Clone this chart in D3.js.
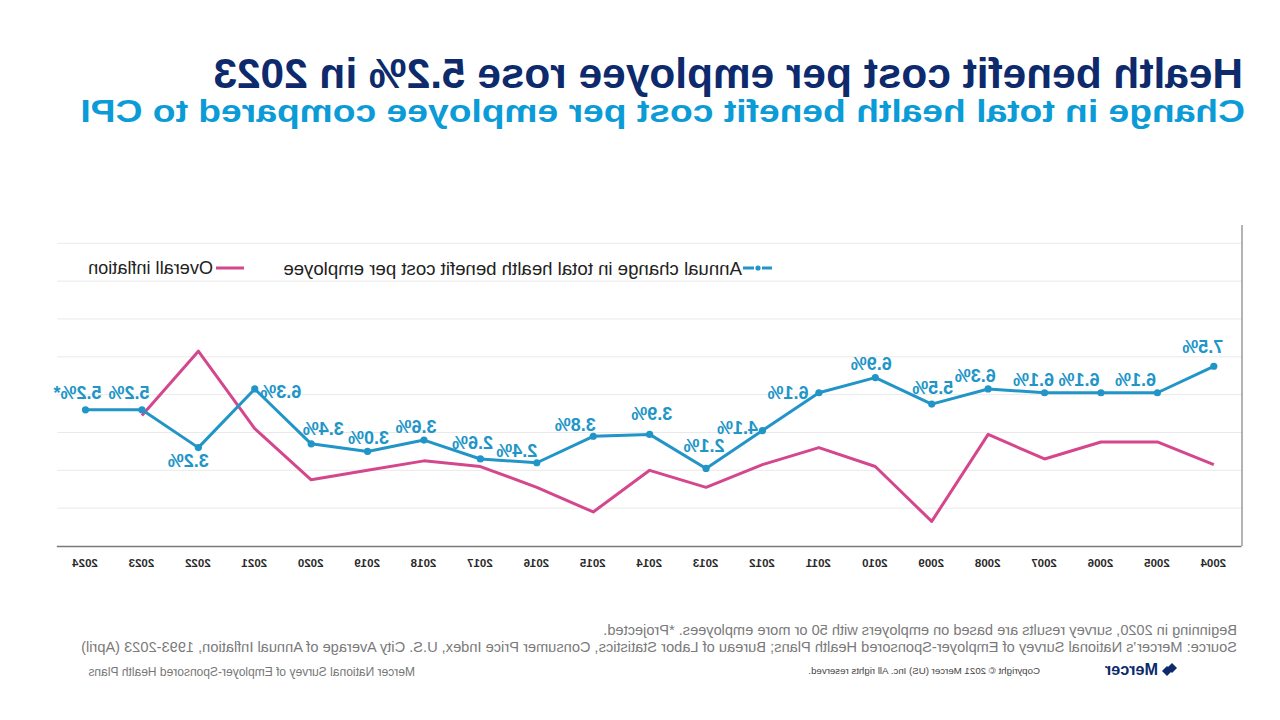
<!DOCTYPE html>
<html>
<head>
<meta charset="utf-8">
<script src="https://cdn.jsdelivr.net/npm/d3@7"></script>
<style>
  html, body { margin: 0; padding: 0; background: #ffffff; }
  svg { display: block; font-family: "Liberation Sans", Arial, sans-serif; }
</style>
</head>
<body>
<svg id="chart" width="1280" height="720"></svg>
<script>
// ---------- data ----------
const years = ["2004","2005","2006","2007","2008","2009","2010","2011","2012","2013","2014",
               "2015","2016","2017","2018","2019","2020","2021","2022","2023","2024"];
const healthCost = [7.5, 6.1, 6.1, 6.1, 6.3, 5.5, 6.9, 6.1, 4.1, 2.1, 3.9,
                    3.8, 2.4, 2.6, 3.6, 3.0, 3.4, 6.3, 3.2, 5.2, 5.2];
const healthLabels = ["7.5%","6.1%","6.1%","6.1%","6.3%","5.5%","6.9%","6.1%","4.1%","2.1%","3.9%",
                      "3.8%","2.4%","2.6%","3.6%","3.0%","3.4%","6.3%","3.2%","5.2%","5.2%*"];
const inflation = [2.3, 3.5, 3.5, 2.6, 3.9, -0.7, 2.2, 3.2, 2.3, 1.1, 2.0,
                   -0.2, 1.1, 2.2, 2.5, 2.0, 1.5, 4.2, 8.3, 4.9, null];
const yTicks = [-2, 0, 2, 4, 6, 8, 10, 12, 14];
const seriesNames = ["Annual change in total health benefit cost per employee", "Overall inflation"];
const titleText = "Health benefit cost per employee rose 5.2% in 2023";
const subtitleText = "Change in total health benefit cost per employee compared to CPI";
const footnote1 = "Beginning in 2020, survey results are based on employers with 50 or more employees. *Projected.";
const footnote2 = "Source: Mercer\u2019s National Survey of Employer-Sponsored Health Plans; Bureau of Labor Statistics, Consumer Price Index, U.S. City Average of Annual Inflation, 1993-2023 (April)";
const copyrightText = "Copyright \u00A9 2021 Mercer (US) Inc. All rights reserved.";
const surveyText = "Mercer National Survey of Employer-Sponsored Health Plans";

// ---------- styling / layout ----------
const BLUE = "#2195c7", PINK = "#d5478d", NAVY = "#0c2a6c", LIGHTBLUE = "#0b9bd7";
// label nudges (dx, dy) relative to each point, reading order of years
const labelNudge = [[11,-19],[22,-13],[22,-13],[11,-13],[13,-13],[-1,-16],[4,-14],[31,0],[25,-3],[2,-22],[-2,-20],
                    [18,-11],[20,-12],[8,-16],[8,-13],[-1,-13],[-12,-15],[-26,3],[10,13],[13,-17],[8,-17]];

const svg = d3.select("#chart");
// the reference is drawn mirrored horizontally
const root = svg.append("g").attr("transform", "translate(1280,0) scale(-1,1)");

function fit(sel, w) {
  const n = sel.node();
  const fs = parseFloat(sel.attr("font-size"));
  const len = n.getComputedTextLength();
  if (len > 0) sel.attr("font-size", (fs * w / len).toFixed(2));
  return sel;
}
// fit width, then stretch vertically so the cap height matches
function fitBox(x0, base, text, fs, weight, fill, w, cap) {
  const g = root.append("g");
  const t = g.append("text").attr("x", 0).attr("y", 0).attr("font-size", fs)
    .attr("font-weight", weight).attr("fill", fill).text(text);
  fit(t, w);
  const f = parseFloat(t.attr("font-size"));
  const sy = cap / (0.716 * f);
  g.attr("transform", `translate(${x0},${base}) scale(1,${sy.toFixed(3)})`);
  return t;
}

const plotL = 38, plotR = 1222.7, plotTop = 225, plotBottom = 546;
const x = d3.scalePoint().domain(years).range([plotL, plotR]).padding(0.5);
const y = d3.scaleLinear().domain([-2, 14]).range([plotBottom, 243.3]);

// titles
fitBox(37, 87.5, titleText, 36, "bold", NAVY, 1030, 30);
fitBox(35, 121.5, subtitleText, 32, "bold", LIGHTBLUE, 1165, 22);

// gridlines
root.append("g").selectAll("line").data(yTicks.filter(d => d > -2)).join("line")
  .attr("x1", plotL).attr("x2", plotR)
  .attr("y1", d => y(d)).attr("y2", d => y(d))
  .attr("stroke", "#e9e9e9").attr("stroke-width", 1);

// axes
const xAxis = root.append("g").attr("transform", `translate(0,${plotBottom})`)
  .call(d3.axisBottom(x).tickSize(0).tickPadding(13));
xAxis.select(".domain").attr("stroke", "#7a7a7a").attr("stroke-width", 1.3);
xAxis.selectAll("text").attr("font-size", 11.5).attr("font-weight", "bold")
  .attr("fill", "#2a2a2a").attr("font-family", "Liberation Sans, Arial, sans-serif");
root.append("line").attr("x1", plotL).attr("x2", plotL).attr("y1", plotTop).attr("y2", plotBottom)
  .attr("stroke", "#8a8a8a").attr("stroke-width", 1.3);

// inflation line
const inflPts = years.map((yr, i) => ({yr, v: inflation[i]})).filter(d => d.v !== null);
root.append("path").datum(inflPts)
  .attr("d", d3.line().x(d => x(d.yr)).y(d => y(d.v)))
  .attr("fill", "none").attr("stroke", PINK).attr("stroke-width", 3).attr("stroke-linejoin", "round");

// health cost line
const hcPts = years.map((yr, i) => ({yr, v: healthCost[i], label: healthLabels[i], n: labelNudge[i]}));
root.append("path").datum(hcPts)
  .attr("d", d3.line().x(d => x(d.yr)).y(d => y(d.v)))
  .attr("fill", "none").attr("stroke", BLUE).attr("stroke-width", 3).attr("stroke-linejoin", "round");
root.append("g").selectAll("circle").data(hcPts).join("circle")
  .attr("cx", d => x(d.yr)).attr("cy", d => y(d.v)).attr("r", 3.6).attr("fill", BLUE);
root.append("g").selectAll("text").data(hcPts).join("text")
  .attr("x", d => x(d.yr) + d.n[0]).attr("y", d => y(d.v) + d.n[1])
  .attr("text-anchor", "middle").attr("dominant-baseline", "central")
  .attr("font-size", 18).attr("font-weight", "bold").attr("fill", BLUE)
  .text(d => d.label);

// legend
const lg = root.append("g");
lg.append("line").attr("x1", 508).attr("x2", 518).attr("y1", 268).attr("y2", 268).attr("stroke", BLUE).attr("stroke-width", 3);
lg.append("line").attr("x1", 526).attr("x2", 537).attr("y1", 268).attr("y2", 268).attr("stroke", BLUE).attr("stroke-width", 3);
lg.append("circle").attr("cx", 522).attr("cy", 268).attr("r", 2.6).attr("fill", BLUE);
fit(lg.append("text").attr("x", 538).attr("y", 268).attr("dominant-baseline", "central")
  .attr("font-size", 16).attr("fill", "#222").text(seriesNames[0]), 459);
lg.append("line").attr("x1", 1036).attr("x2", 1064).attr("y1", 268).attr("y2", 268).attr("stroke", PINK).attr("stroke-width", 3);
fit(lg.append("text").attr("x", 1067).attr("y", 268).attr("dominant-baseline", "central")
  .attr("font-size", 16).attr("fill", "#222").text(seriesNames[1]), 125);

// footnotes
fit(root.append("text").attr("x", 43).attr("y", 635).attr("font-size", 14).attr("fill", "#7a7a7a").text(footnote1), 634);
fit(root.append("text").attr("x", 43).attr("y", 652).attr("font-size", 14).attr("fill", "#7a7a7a").text(footnote2), 1157);
fit(root.append("text").attr("x", 240).attr("y", 674).attr("font-size", 10).attr("fill", "#444").text(copyrightText), 232);
fit(root.append("text").attr("x", 865).attr("y", 676).attr("font-size", 10).attr("fill", "#777").text(surveyText), 327);

// Mercer logo
const logo = root.append("g");
logo.append("path").attr("d", "M103,668 L108,663 L113,668 L108,673 Z").attr("fill", NAVY);
logo.append("path").attr("d", "M108,673 L113,668 L118,673 L113,678 Z").attr("fill", NAVY).attr("transform", "translate(0,-2)");
fit(logo.append("text").attr("x", 122).attr("y", 675).attr("font-size", 15).attr("font-weight", "bold")
  .attr("fill", NAVY).text("Mercer"), 53);
</script>
</body>
</html>
